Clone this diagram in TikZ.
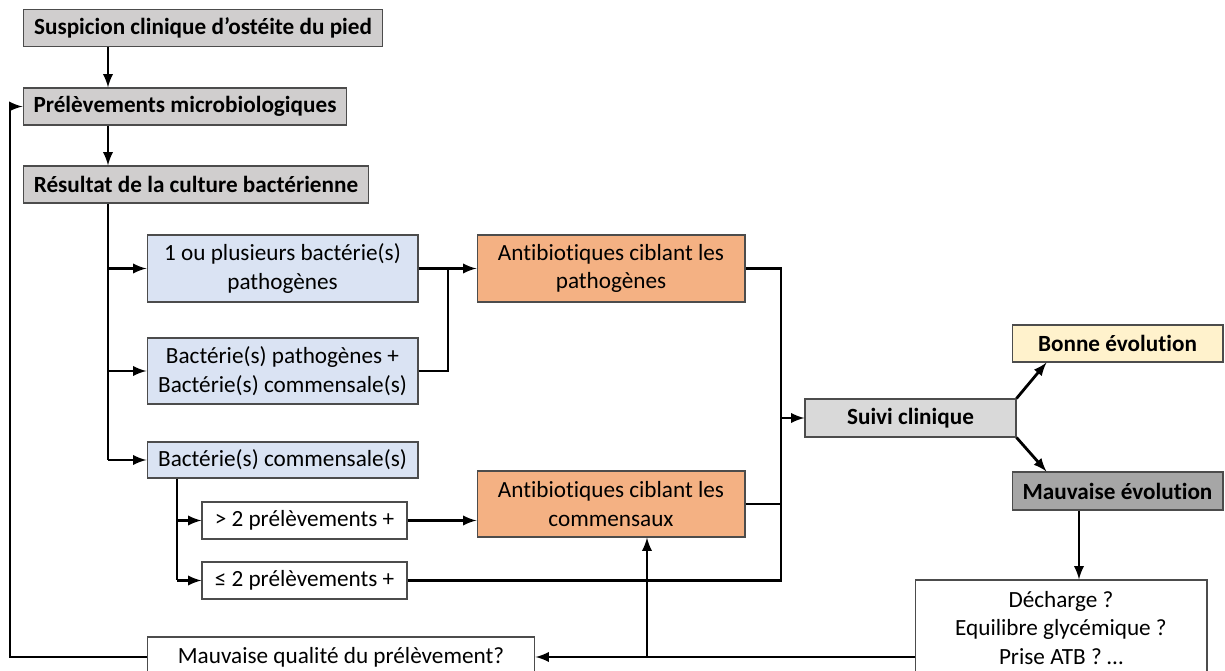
\documentclass[tikz,border=0pt]{standalone}
\usepackage{fontspec}
\setmainfont{Carlito}[Ligatures=NoCommon]
\usepackage{tikz}

\definecolor{boxgrey}{HTML}{D0CECE}
\definecolor{boxblue}{HTML}{DAE3F3}
\definecolor{boxorange}{HTML}{F4B183}
\definecolor{boxyellow}{HTML}{FFF2CC}
\definecolor{boxlight}{HTML}{D9D9D9}
\definecolor{boxdark}{HTML}{A6A6A6}

\tikzset{
    box/.style={draw=black!70, line width=0.6pt, align=center, inner sep=2pt,
        font=\fontsize{13.2}{16.3}\selectfont},
    boldbox/.style={box, font=\fontsize{13.2}{16.3}\selectfont\bfseries},
    link/.style={line width=1.6pt},
}

\begin{document}
\begin{tikzpicture}[x=0.02cm, y=-0.02cm, >=latex]
    \clip (0,0) rectangle (1225,671);
    \fill[white] (0,0) rectangle (1225,671);
    % Draw left column
    \node[boldbox, fill=boxgrey, minimum width=7.2cm, minimum height=0.74cm] (susp) at (203,28) {Suspicion clinique d’ostéite du pied};
    \node[boldbox, fill=boxgrey, minimum width=6.48cm, minimum height=0.74cm] (prel) at (185,106.5) {Prélèvements microbiologiques};
    \node[boldbox, fill=boxgrey, minimum width=6.92cm, minimum height=0.74cm] (res) at (196,184.5) {Résultat de la culture bactérienne};
    \node[box, fill=boxblue, minimum width=5.42cm, minimum height=1.34cm] (bact1) at (282.5,268.5) {1 ou plusieurs bactérie(s)\\pathogènes};
    \node[box, fill=boxblue, minimum width=5.42cm, minimum height=1.32cm] (bact2) at (282.5,371) {Bactérie(s) pathogènes +\\Bactérie(s) commensale(s)};
    \node[box, fill=boxblue, minimum width=5.42cm, minimum height=0.72cm] (bact3) at (282.5,460) {Bactérie(s) commensale(s)};
    \node[box, fill=white, minimum width=4.1cm, minimum height=0.74cm] (plus) at (304.5,520.5) {> 2 prélèvements +};
    \node[box, fill=white, minimum width=4.1cm, minimum height=0.74cm] (moins) at (304.5,580.5) {≤ 2 prélèvements +};
    \node[box, fill=white, minimum width=7.76cm, minimum height=0.8cm] (qual) at (341,657) {Mauvaise qualité du prélèvement?};
    % Draw treatments
    \node[box, fill=boxorange, minimum width=5.36cm, minimum height=1.34cm] (atbp) at (611,268.5) {Antibiotiques ciblant les\\pathogènes};
    \node[box, fill=boxorange, minimum width=5.36cm, minimum height=1.32cm] (atbc) at (611,504) {Antibiotiques ciblant les\\commensaux};
    % Draw follow-up
    \node[boldbox, fill=boxlight, minimum width=4.22cm, minimum height=0.76cm] (suivi) at (910.5,418) {Suivi clinique};
    \node[boldbox, fill=boxyellow, minimum width=4.22cm, minimum height=0.74cm] (bonne) at (1117.5,343.5) {Bonne évolution};
    \node[boldbox, fill=boxdark, minimum width=4.22cm, minimum height=0.76cm] (mauv) at (1117.5,491) {Mauvaise évolution};
    \node[box, fill=white, minimum width=5.84cm, minimum height=1.92cm] (dech) at (1061,628) {Décharge ?\\Equilibre glycémique ?\\Prise ATB ? …};

    \coordinate (trunk) at (108,0);
    \coordinate (sub) at (177,0);
    \coordinate (jp) at (448,0);
    \coordinate (jc) at (781,0);
    \coordinate (loop) at (10,0);
    \coordinate (up) at (647,0);
    \coordinate (down) at (1079,0);

    % Draw connectors
    \draw[link, ->] (susp.south -| trunk) -- (prel.north -| trunk);
    \draw[link, ->] (prel.south -| trunk) -- (res.north -| trunk);
    \draw[link] (res.south -| trunk) -- (bact3.west -| trunk);
    \draw[link, ->] (bact1.west -| trunk) -- (bact1.west);
    \draw[link, ->] (bact2.west -| trunk) -- (bact2.west);
    \draw[link, ->] (bact3.west -| trunk) -- (bact3.west);
    \draw[link] (bact3.south -| sub) -- (moins.west -| sub);
    \draw[link, ->] (plus.west -| sub) -- (plus.west);
    \draw[link, ->] (moins.west -| sub) -- (moins.west);
    \draw[link, ->] (bact1.east) -- (atbp.west);
    \draw[link] (bact2.east) -- (bact2.east -| jp) -- (bact1.east -| jp);
    \draw[link, ->] (plus.east) -- (plus.east -| atbc.west);
    \draw[link] (moins.east) -- (moins.east -| jc) -- (atbp.east -| jc) -- (atbp.east);
    \draw[link] (atbc.east) -- (atbc.east -| jc);
    \draw[link, ->] (suivi.west -| jc) -- (suivi.west);
    \draw[link, ->] (suivi.north east) -- ([xshift=0.7cm]bonne.south west);
    \draw[link, ->] (suivi.south east) -- ([xshift=0.7cm]mauv.north west);
    \draw[link, ->] (mauv.south -| down) -- (dech.north -| down);
    \draw[link, ->] (dech.west |- qual) -- (qual.east);
    \draw[link, ->] (qual.east -| up) -- (atbc.south -| up);
    \draw[link, ->] (qual.west) -- (qual.west -| loop) -- (prel.west -| loop) -- (prel.west);
\end{tikzpicture}
\end{document}
